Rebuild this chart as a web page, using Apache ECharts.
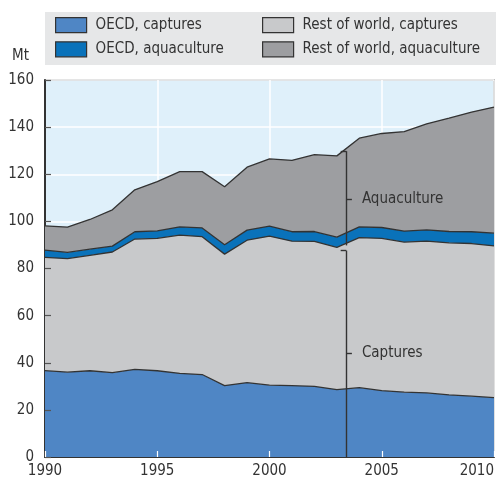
<!DOCTYPE html>
<html lang="en">
<head>
    <meta charset="UTF-8">
    <style>
        html, body { margin: 0; padding: 0; background: #fff; }
        #main { width: 496px; height: 483px; }
    </style>
    <script src="https://cdn.jsdelivr.net/npm/echarts@6/dist/echarts.min.js"></script>
    <title>Captures and aquaculture</title>
</head>
<body>
    <div id="main"></div>
    <script>
        var years = ['1990', '1991', '1992', '1993', '1994', '1995', '1996', '1997', '1998', '1999', '2000',
                     '2001', '2002', '2003', '2004', '2005', '2006', '2007', '2008', '2009', '2010'];
        var oecdCaptures = [36.7, 36.0, 36.6, 35.8, 37.2, 36.6, 35.5, 35.0, 30.3, 31.6, 30.5,
                            30.3, 30.0, 28.6, 29.4, 28.2, 27.5, 27.2, 26.4, 25.8, 25.2];
        var rowCaptures = [48.0, 48.2, 49.0, 51.2, 55.3, 56.2, 58.7, 58.5, 55.8, 60.4, 63.2,
                           61.3, 61.5, 60.4, 63.7, 64.6, 63.7, 64.4, 64.5, 64.8, 64.4];
        var oecdAqua = [3.1, 2.6, 2.6, 2.5, 3.1, 3.2, 3.5, 3.7, 4.0, 4.3, 4.3,
                        4.0, 4.2, 4.3, 4.6, 4.6, 4.7, 4.8, 4.8, 5.0, 5.4];
        var rowAqua = [10.3, 10.8, 12.6, 15.4, 17.8, 20.9, 23.4, 23.9, 24.6, 26.7, 28.5,
                       30.3, 32.6, 34.5, 37.6, 39.9, 42.2, 45.0, 48.1, 50.8, 53.5];

        // bracket annotation (year position and value ranges)
        var bracketYear = 2003.42, tickLeft = 2003.17, tickRight = 2003.67;
        var aquaRange = [129.8, 89.8], aquaMid = 109.6;
        var captRange = [87.6, 0], captMid = 44;

        var font = "'Liberation Sans Narrow', 'DejaVu Sans Condensed', 'Roboto', sans-serif";
        var ink = '#333';

        function areaSeries(name, vals, color) {
            return {
                name: name,
                type: 'line',
                stack: 'total',
                symbol: 'none',
                silent: true,
                color: color,
                lineStyle: { color: ink, width: 1.3 },
                areaStyle: { color: color, opacity: 1 },
                data: vals
            };
        }

        function labelStyle(text) {
            return { show: true, position: 'end', distance: 10, color: ink,
                     fontFamily: font, fontSize: 15, formatter: text };
        }

        var bracket = {
            silent: true,
            symbol: ['none', 'none'],
            label: { show: false },
            lineStyle: { color: ink, width: 1.4, type: 'solid' },
            emphasis: { disabled: true },
            data: [
                [{ coord: [bracketYear, aquaRange[0]] }, { coord: [bracketYear, aquaRange[1]] }],
                [{ coord: [tickLeft, aquaRange[0]] }, { coord: [bracketYear, aquaRange[0]] }],
                [{ coord: [bracketYear, aquaMid], label: labelStyle('Aquaculture') },
                 { coord: [tickRight, aquaMid] }],
                [{ coord: [bracketYear, captRange[0]] }, { coord: [bracketYear, captRange[1]] }],
                [{ coord: [tickLeft, captRange[0]] }, { coord: [bracketYear, captRange[0]] }],
                [{ coord: [bracketYear, captMid], label: labelStyle('Captures') },
                 { coord: [tickRight, captMid] }]
            ]
        };

        var legendBase = {
            orient: 'vertical',
            top: 17,
            padding: 0,
            icon: 'rect',
            itemWidth: 31,
            itemHeight: 15,
            itemGap: 8,
            selectedMode: false,
            itemStyle: { borderColor: ink, borderWidth: 1.2 },
            textStyle: { fontFamily: font, fontSize: 15, color: ink, padding: [0, 0, 0, 4] }
        };

        var myChart = echarts.init(document.getElementById('main'), null, { renderer: 'canvas' });
        var option = {
            animation: false,
            textStyle: { fontFamily: font },
            graphic: [{
                type: 'rect',
                left: 45, top: 12,
                shape: { width: 451, height: 53 },
                style: { fill: '#e6e7e8' },
                z: -1
            }],
            legend: [
                Object.assign({}, legendBase, { left: 55, data: ['OECD, captures', 'OECD, aquaculture'] }),
                Object.assign({}, legendBase, { left: 262, data: ['Rest of world, captures', 'Rest of world, aquaculture'] })
            ],
            grid: {
                left: 45, right: 2, top: 80, bottom: 26,
                outerBoundsMode: 'none',
                containLabel: false,
                show: true,
                backgroundColor: '#dff0fa',
                borderColor: ink,
                borderWidth: 1.2
            },
            xAxis: [{
                type: 'category',
                data: years,
                boundaryGap: false,
                axisLine: { lineStyle: { color: ink, width: 2 } },
                axisTick: { show: false },
                axisLabel: { color: ink, fontSize: 15, fontFamily: font, margin: 7,
                             interval: 4, alignMaxLabel: 'right' },
                splitLine: { show: true, interval: 4, lineStyle: { color: '#ffffff', width: 1.5 } }
            }, {
                type: 'value', position: 'bottom',
                min: 1990, max: 2010, interval: 5,
                z: 10,
                axisLine: { show: false },
                axisLabel: { show: false },
                splitLine: { show: false },
                axisTick: { inside: true, length: 6, lineStyle: { color: '#ffffff', width: 1.2 } }
            }],
            yAxis: [{
                type: 'value',
                min: 0, max: 160, interval: 20,
                name: 'Mt',
                nameLocation: 'end',
                nameGap: 16,
                nameTextStyle: { color: ink, fontSize: 15, fontFamily: font, align: 'right',
                                 padding: [0, 16, 0, 0] },
                axisLine: { show: true, lineStyle: { color: ink, width: 2 } },
                axisTick: { show: false },
                axisLabel: { color: ink, fontSize: 15, fontFamily: font, margin: 11 },
                splitLine: { show: true, lineStyle: { color: '#ffffff', width: 1.5 } }
            }, {
                type: 'value', position: 'left',
                min: 0, max: 160, interval: 20,
                z: 10,
                axisLine: { show: false },
                axisLabel: { show: false },
                splitLine: { show: false },
                axisTick: { inside: true, length: 6, lineStyle: { color: '#555', width: 1.2 } }
            }],
            series: [
                areaSeries('OECD, captures', oecdCaptures, '#4f86c5'),
                areaSeries('Rest of world, captures', rowCaptures, '#c8c9cb'),
                areaSeries('OECD, aquaculture', oecdAqua, '#0a72ba'),
                areaSeries('Rest of world, aquaculture', rowAqua, '#9d9ea1'),
                {
                    // carrier for the bracket annotation on the numeric year axis
                    name: 'bracket',
                    type: 'line',
                    xAxisIndex: 1,
                    yAxisIndex: 0,
                    data: [],
                    silent: true,
                    z: 5,
                    markLine: bracket
                }
            ]
        };
        myChart.setOption(option);
    </script>
</body>
</html>
